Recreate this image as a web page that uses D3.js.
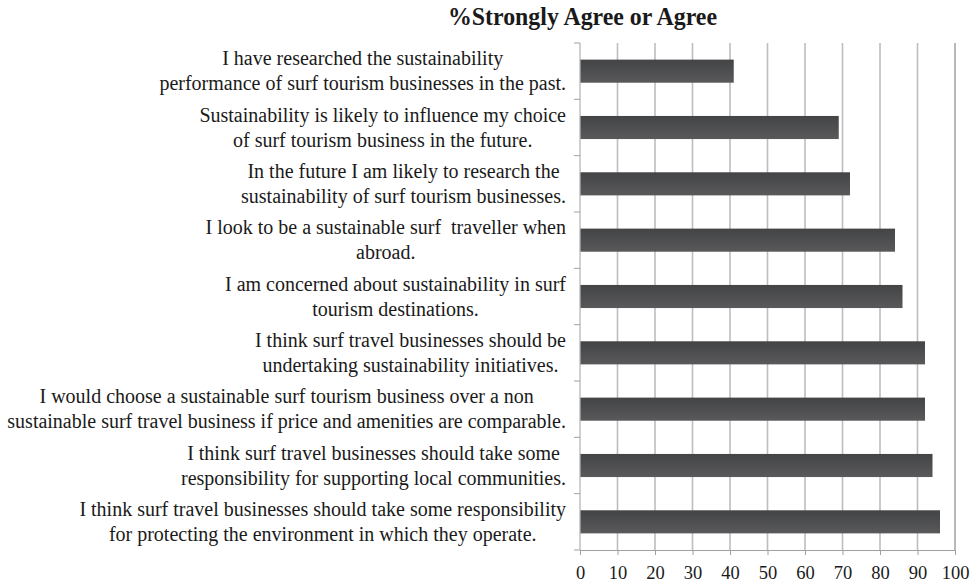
<!DOCTYPE html>
<html>
<head>
<meta charset="utf-8">
<script src="https://cdn.jsdelivr.net/npm/d3@7"></script>
<style>
  html, body { margin: 0; padding: 0; background: #fff; }
  svg { display: block; }
  .label text { white-space: pre; }
</style>
</head>
<body>
<svg id="chart" width="974" height="584"></svg>
<script>
// Survey statements, top to bottom, each split into its printed lines
const statements = [
  ["I have researched the sustainability", "performance of surf tourism businesses in the past."],
  ["Sustainability is likely to influence my choice", "of surf tourism business in the future."],
  ["In the future I am likely to research the", "sustainability of surf tourism businesses."],
  ["I look to be a sustainable surf  traveller when", "abroad."],
  ["I am concerned about sustainability in surf", "tourism destinations."],
  ["I think surf travel businesses should be", "undertaking sustainability initiatives."],
  ["I would choose a sustainable surf tourism business over a non", "sustainable surf travel business if price and amenities are comparable."],
  ["I think surf travel businesses should take some", "responsibility for supporting local communities."],
  ["I think surf travel businesses should take some responsibility", "for protecting the environment in which they operate."]
];
// Share of respondents who strongly agree or agree (%)
const agreePct = [41, 69, 72, 84, 86, 92, 92, 94, 96];
const xTicks = [0, 10, 20, 30, 40, 50, 60, 70, 80, 90, 100];
const chartTitle = "%Strongly Agree or Agree";

const FONT = "'Liberation Serif', Tinos, 'Times New Roman', serif";
const svg = d3.select("#chart");
const plot = { left: 580, right: 955, top: 43, bottom: 550 };

const x = d3.scaleLinear().domain([0, 100]).range([plot.left, plot.right]);
const y = d3.scaleBand()
  .domain(d3.range(statements.length))
  .range([plot.top, plot.bottom])
  .paddingInner(0.59).paddingOuter(0.295);
const yStep = y.step();

// vertical bar gradient
const grad = svg.append("defs").append("linearGradient")
  .attr("id", "barFill").attr("x1", 0).attr("y1", 0).attr("x2", 0).attr("y2", 1);
grad.append("stop").attr("offset", "0%").attr("stop-color", "#434446");
grad.append("stop").attr("offset", "100%").attr("stop-color", "#59595b");

// gridlines
svg.append("g").selectAll("line")
  .data(xTicks.filter(d => d > 0))
  .join("line")
  .attr("x1", d => x(d)).attr("x2", d => x(d))
  .attr("y1", plot.top).attr("y2", plot.bottom)
  .attr("stroke", d => d === 100 ? "#a8a8a8" : "#bdbdbd")
  .attr("stroke-width", 1.6);

// bottom axis
const xAxis = svg.append("g")
  .attr("transform", `translate(0,${plot.bottom})`)
  .call(d3.axisBottom(x).tickValues(xTicks).tickSize(5).tickPadding(11).tickFormat(d3.format("d")));
xAxis.attr("font-family", FONT).attr("font-size", 18.5);
xAxis.select(".domain").attr("stroke", "#a0a0a0");
xAxis.selectAll(".tick line").attr("stroke", "#a0a0a0");
xAxis.selectAll(".tick text").attr("fill", "#1a1a1a");

// left axis line with ticks at category boundaries
svg.append("line")
  .attr("x1", plot.left).attr("x2", plot.left)
  .attr("y1", plot.top).attr("y2", plot.bottom)
  .attr("stroke", "#a0a0a0").attr("stroke-width", 1);
svg.append("g").selectAll("line")
  .data(d3.range(statements.length + 1))
  .join("line")
  .attr("x1", plot.left - 6).attr("x2", plot.left)
  .attr("y1", i => plot.top + i * yStep).attr("y2", i => plot.top + i * yStep)
  .attr("stroke", "#a0a0a0");

// bars
svg.append("g").selectAll("rect")
  .data(agreePct)
  .join("rect")
  .attr("x", x(0) + 0.5)
  .attr("y", (d, i) => y(i))
  .attr("width", d => x(d) - x(0) - 0.5)
  .attr("height", y.bandwidth())
  .attr("fill", "url(#barFill)");

// category labels: lines centred within a block right-aligned to the axis
const labelRight = plot.left - 14;
const lineGap = 25;
const labels = svg.append("g").attr("class", "label")
  .attr("font-family", FONT).attr("font-size", 20).attr("fill", "#1a1a1a");
statements.forEach((lines, i) => {
  const g = labels.append("g");
  const texts = lines.map(s => g.append("text").text(s).attr("text-anchor", "middle"));
  const widest = d3.max(texts, t => t.node().getComputedTextLength());
  const cx = labelRight - widest / 2;
  const cy = y(i) + y.bandwidth() / 2;
  texts.forEach((t, k) => {
    t.attr("x", cx)
     .attr("y", cy + (k - (lines.length - 1) / 2) * lineGap + 6.5);
  });
});

// title
svg.append("text")
  .attr("x", 582.5).attr("y", 25)
  .attr("text-anchor", "middle")
  .attr("font-family", FONT).attr("font-size", 26).attr("font-weight", "bold")
  .attr("textLength", 269).attr("lengthAdjust", "spacingAndGlyphs")
  .attr("fill", "#1a1a1a")
  .text(chartTitle);
</script>
</body>
</html>
